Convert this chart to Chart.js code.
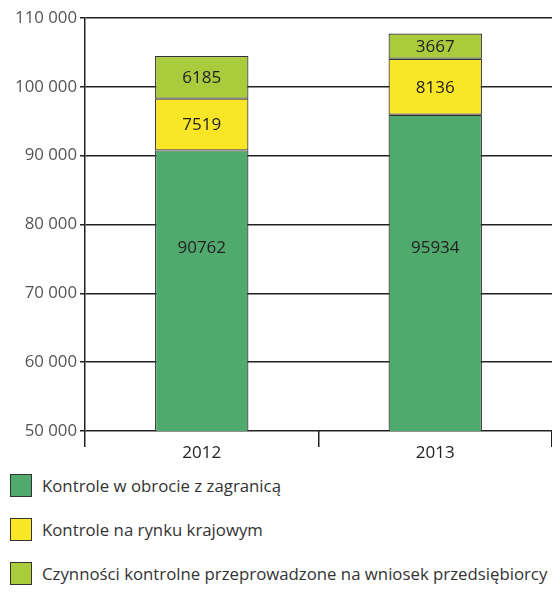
<!DOCTYPE html>
<html><head><meta charset="utf-8">
<script src="https://cdn.jsdelivr.net/npm/chart.js@4/dist/chart.umd.min.js"></script>
<style>
html,body{margin:0;padding:0;background:#fff;width:552px;height:608px;overflow:hidden;font-family:"Open Sans",sans-serif;}
#wrap{position:absolute;left:0;top:0;width:552px;height:466px;}
#legend{position:absolute;left:10px;top:474px;}
.item{display:flex;align-items:center;height:23px;margin-bottom:21px;font-size:16.8px;color:#333;}
.item:last-child{margin-top:2px;}
.box{width:22px;height:23px;border:1px solid #333;box-sizing:border-box;margin-right:10px;}
</style></head>
<body>
<div id="wrap"><canvas id="c"></canvas></div>
<div id="legend"></div>
<script>
const categories = ["2012", "2013"];
const seriesNames = ["Kontrole w obrocie z zagranicą", "Kontrole na rynku krajowym", "Czynności kontrolne przeprowadzone na wniosek przedsiębiorcy"];
const foreignTrade = [90762, 95934];
const domesticMarket = [7519, 8136];
const onRequest = [6185, 3667];
const yTicks = [50000, 60000, 70000, 80000, 90000, 100000, 110000];
const colors = ["#50aa6e", "#f9e626", "#a9cb3c"];
const clippedLabelAt = 76500;

const fmt = v => String(v).replace(/\B(?=(\d{3})+(?!\d))/g, " ");

const valueLabels = {
  id: "valueLabels",
  afterDatasetsDraw(chart) {
    const ctx = chart.ctx;
    const area = chart.chartArea;
    ctx.save();
    ctx.font = '17px "Open Sans"';
    ctx.fillStyle = "#222";
    ctx.textAlign = "center";
    ctx.textBaseline = "middle";
    chart.data.datasets.forEach((ds, i) => {
      chart.getDatasetMeta(i).data.forEach((el, j) => {
        let y;
        if (el.base > area.bottom) y = chart.scales.y.getPixelForValue(clippedLabelAt);
        else y = (el.base + el.y) / 2 + 1;
        ctx.fillText(String(ds.data[j]), el.x, y);
      });
    });
    ctx.restore();
  }
};

const series = [foreignTrade, domesticMarket, onRequest];
new Chart(document.getElementById("c"), {
  type: "bar",
  data: {
    labels: categories,
    datasets: series.map((d, i) => ({
      label: seriesNames[i],
      data: d,
      backgroundColor: colors[i],
      borderColor: "#333",
      borderWidth: 1.2,
      borderSkipped: false,
      categoryPercentage: 1,
      barPercentage: 0.40
    }))
  },
  options: {
    responsive: true,
    maintainAspectRatio: false,
    animation: false,
    layout: { padding: { top: 18, right: 0, left: 0, bottom: 0 } },
    plugins: { legend: { display: false }, tooltip: { enabled: false } },
    scales: {
      x: {
        stacked: true,
        offset: true,
        grid: { display: true, drawOnChartArea: false, offset: true, tickLength: 16, color: "#222", lineWidth: 1.5 },
        border: { display: false },
        ticks: { font: { family: "Open Sans", size: 17 }, color: "#222", padding: -4 },
        afterFit(s) { s.height = 35; }
      },
      y: {
        stacked: true,
        min: 50000,
        max: 110000,
        afterBuildTicks(s) { s.ticks = yTicks.map(v => ({ value: v })); },
        grid: { color: "#222", lineWidth: 1.5, tickLength: 5 },
        border: { display: true, color: "#222", width: 1.5 },
        ticks: { font: { family: "Open Sans", size: 16.8 }, color: "#555", padding: 3, callback: v => fmt(v) },
        afterFit(s) { s.width = 85; }
      }
    }
  },
  plugins: [valueLabels]
});

const leg = document.getElementById("legend");
seriesNames.forEach((n, i) => {
  const it = document.createElement("div");
  it.className = "item";
  const b = document.createElement("div");
  b.className = "box";
  b.style.background = colors[i];
  const t = document.createElement("span");
  t.textContent = n;
  it.appendChild(b); it.appendChild(t);
  leg.appendChild(it);
});
</script>
</body></html>
